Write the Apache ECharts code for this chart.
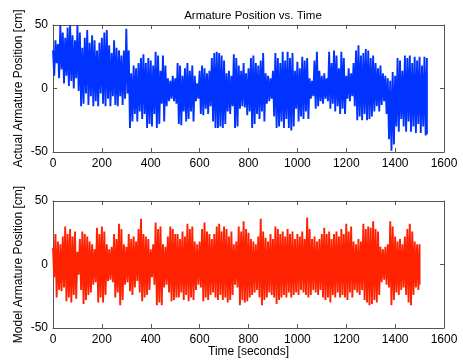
<!DOCTYPE html>
<html>
<head>
<meta charset="utf-8">
<script src="https://cdn.jsdelivr.net/npm/echarts@6/dist/echarts.min.js"></script>
<style>
html,body{margin:0;padding:0;background:#fff;}
#c{width:463px;height:360px;}
</style>
</head>
<body>
<div id="c"></div>
<script>
// Envelope readings (cm) every 10 s
const timeStep = 10;
const actualHigh = [30,38,35,50,44,40,48,50,42,38,50,44,32,40,46,36,42,38,30,36,
  40,44,46,34,28,38,32,30,26,30,47,30,12,18,16,20,24,27,20,24,
  22,18,29,26,14,26,18,8,6,10,8,20,18,10,16,20,14,18,10,4,
  14,18,16,12,14,24,28,29,28,26,22,12,14,10,27,24,18,14,20,12,
  16,24,26,20,18,22,28,12,10,8,14,28,24,20,29,22,29,24,28,14,
  21,16,25,22,24,8,6,22,29,14,10,12,8,29,20,30,26,16,29,24,
  10,16,12,20,30,34,26,28,31,30,24,26,20,16,18,12,10,8,6,13,
  10,24,22,14,26,24,26,20,25,22,25,18,25,24];
const actualLow = [10,20,8,15,4,10,2,6,0,8,-2,-14,-12,-4,-13,-6,-14,-10,-14,-4,
  -12,-14,-8,-14,-6,-13,-14,-6,-13,-8,-4,-31,-26,-20,-26,-18,-24,-20,-31,-28,
  -30,-20,-31,-28,-12,-26,-14,-10,-8,-10,-12,-28,-29,-18,-26,-24,-18,-26,-10,-8,
  -20,-21,-16,-20,-14,-26,-31,-31,-30,-31,-28,-18,-20,-14,-31,-30,-16,-14,-15,-21,
  -18,-31,-28,-20,-24,-18,-26,-12,-10,-8,-22,-31,-30,-26,-31,-24,-31,-33,-30,-16,
  -26,-22,-24,-18,-24,-8,-6,-16,-14,-10,-12,-8,-10,-16,-12,-18,-14,-20,-16,-20,
  -8,-10,-6,-14,-25,-22,-25,-20,-25,-24,-22,-18,-14,-18,-13,-10,-20,-40,-49,-44,
  -30,-34,-24,-30,-34,-26,-34,-30,-35,-28,-35,-30,-37,-36];
const modelHigh = [13,24,18,16,22,30,24,28,22,26,10,20,26,24,22,18,16,12,29,24,
  30,26,16,12,14,24,20,32,28,16,14,24,20,22,18,28,36,24,22,20,
  12,16,33,28,30,16,14,22,30,28,24,24,20,26,22,32,28,30,18,16,
  18,28,33,26,24,20,24,30,32,26,30,28,22,26,16,18,30,26,34,28,
  25,20,18,16,22,36,26,21,18,24,20,30,28,24,26,22,28,24,26,20,
  24,22,26,20,37,28,20,22,18,20,24,29,24,26,20,24,26,22,28,24,
  32,26,30,18,16,20,18,32,28,30,29,34,28,26,14,12,14,16,34,30,
  22,18,20,16,22,28,32,26,18,16,16];
const modelLow = [-10,-26,-20,-21,-18,-29,-26,-30,-24,-27,-8,-20,-31,-28,-24,-22,-16,-14,-30,-26,
  -30,-24,-13,-12,-14,-26,-22,-32,-28,-16,-14,-21,-24,-18,-13,-22,-29,-26,-24,-20,
  -10,-16,-32,-30,-32,-18,-16,-22,-29,-28,-26,-26,-22,-28,-24,-29,-26,-28,-20,-16,
  -18,-29,-26,-28,-24,-22,-26,-28,-24,-28,-26,-30,-28,-24,-16,-18,-32,-28,-30,-29,
  -26,-24,-22,-20,-26,-32,-28,-26,-22,-24,-26,-31,-28,-26,-24,-26,-22,-26,-24,-22,
  -24,-20,-22,-24,-26,-24,-20,-22,-24,-20,-26,-28,-26,-30,-24,-26,-22,-26,-24,-26,
  -28,-22,-26,-20,-22,-24,-20,-28,-30,-32,-31,-28,-30,-24,-14,-12,-16,-18,-32,-28,
  -22,-24,-20,-18,-24,-30,-32,-24,-18,-20,-16];
const xTicks = {min:0, max:1600, interval:200};
const yTicks = {min:-50, max:50, interval:50};
const titleText = 'Armature Position vs. Time';
const yName1 = 'Actual Armature Position [cm]';
const yName2 = 'Model Armature Position [cm]';
const xName = 'Time [seconds]';

const blue = '#0033ff';
const red = '#ff2200';

function zigzag(hi, lo){
  const out = [];
  for (let i=0;i<hi.length;i++){
    out.push([i*timeStep, hi[i]]);
    if (i < hi.length-1) out.push([i*timeStep + timeStep/2, lo[i]]);
    else out.push([i*timeStep, lo[i]]);
  }
  return out;
}

function signalSeries(xi, yi, hi, lo, color){
  return {type:'line', xAxisIndex:xi, yAxisIndex:yi, data:zigzag(hi, lo),
      showSymbol:false, symbol:'none', lineStyle:{color:color, width:1.9, join:'miter', miterLimit:3}, sampling:null};
}

const font = 'Liberation Sans, Arial, Helvetica, sans-serif';
const axisColor = '#555';
function xAx(gi, pos, labels, name){
  return {type:'value', gridIndex:gi, position:pos, min:xTicks.min, max:xTicks.max, interval:xTicks.interval,
    axisLine:{show:true, onZero:false, lineStyle:{color:axisColor, width:1}},
    axisTick:{show:true, inside:true, length:4, lineStyle:{color:axisColor}},
    axisLabel:{show:labels, color:'#000', fontSize:12, fontFamily:font, margin:6, formatter:(v)=>String(v)},
    splitLine:{show:false},
    name: name || '', nameLocation:'middle', nameGap:18, nameMoveOverlap:false,
    nameTextStyle:{color:'#000', fontSize:12, fontFamily:font}};
}
function yAx(gi, pos, labels, name){
  return {type:'value', gridIndex:gi, position:pos, min:yTicks.min, max:yTicks.max, interval:yTicks.interval,
    axisLine:{show:true, onZero:false, lineStyle:{color:axisColor, width:1}},
    axisTick:{show:true, inside:true, length:4, lineStyle:{color:axisColor}},
    axisLabel:{show:labels, color:'#000', fontSize:12, fontFamily:font, margin:5, formatter:(v)=>String(v)},
    splitLine:{show:false},
    name: name || '', nameLocation:'middle', nameGap:28, nameRotate:90, nameMoveOverlap:false,
    nameTextStyle:{color:'#000', fontSize:12, fontFamily:font}};
}

const chart = echarts.init(document.getElementById('c'), null, {renderer:'canvas'});
chart.setOption({
  animation:false,
  backgroundColor:'#fff',
  title:{text:titleText, left:248, top:5, textAlign:'center',
    textStyle:{fontSize:11.5, fontWeight:'normal', color:'#000', fontFamily:font}},
  grid:[
    {left:53, top:25, width:391, height:127},
    {left:53, top:201, width:391, height:127}
  ],
  xAxis:[
    xAx(0,'bottom',true,''), xAx(0,'top',false,''),
    xAx(1,'bottom',true,xName), xAx(1,'top',false,'')
  ],
  yAxis:[
    yAx(0,'left',true,yName1), yAx(0,'right',false,''),
    yAx(1,'left',true,yName2), yAx(1,'right',false,'')
  ],
  series: [
    signalSeries(0, 0, actualHigh, actualLow, blue),
    signalSeries(2, 2, modelHigh, modelLow, red)
  ]
});
</script>
</body>
</html>
